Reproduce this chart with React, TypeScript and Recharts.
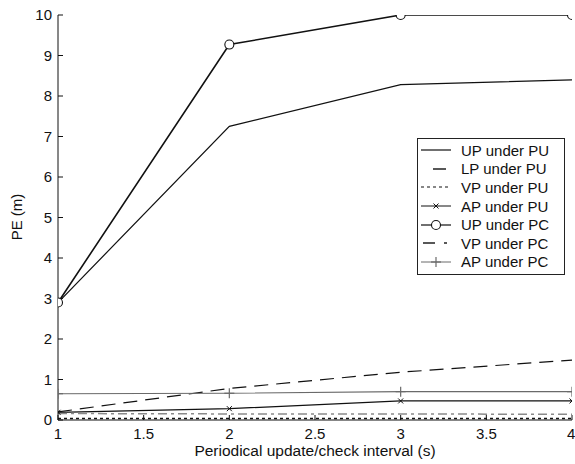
import { LineChart, Line, XAxis, YAxis, Legend } from 'recharts';

const intervals = [1, 2, 3, 4];
const upUnderPU = [2.9, 7.25, 8.28, 8.4];
const lpUnderPU = [0.2, 0.78, 1.18, 1.48];
const vpUnderPU = [0.04, 0.04, 0.04, 0.04];
const apUnderPU = [0.19, 0.28, 0.47, 0.47];
const upUnderPC = [2.9, 9.27, 10, 10];
const vpUnderPC = [0.16, 0.15, 0.15, 0.14];
const apUnderPC = [0.65, 0.66, 0.7, 0.7];

const xTicks = [1, 1.5, 2, 2.5, 3, 3.5, 4];
const yTicks = [0, 1, 2, 3, 4, 5, 6, 7, 8, 9, 10];

const data = intervals.map((x, i) => ({
  x,
  upPU: upUnderPU[i],
  lpPU: lpUnderPU[i],
  vpPU: vpUnderPU[i],
  apPU: apUnderPU[i],
  upPC: upUnderPC[i],
  vpPC: vpUnderPC[i],
  apPC: apUnderPC[i],
}));

const FONT = '"Liberation Sans", Arial, Helvetica, sans-serif';
const INK = '#111';
const GREY = '#6a6a6a';

const CircleDot = (props: any) => {
  const { cx, cy } = props;
  if (cx == null || cy == null) return <g />;
  return <circle cx={cx} cy={cy} r={4.5} fill="#fff" stroke={INK} strokeWidth={1.1} />;
};

const CrossDot = (props: any) => {
  const { cx, cy } = props;
  if (cx == null || cy == null) return <g />;
  const s = 2.5;
  return (
    <g stroke={INK} strokeWidth={1}>
      <line x1={cx - s} y1={cy - s} x2={cx + s} y2={cy + s} />
      <line x1={cx - s} y1={cy + s} x2={cx + s} y2={cy - s} />
    </g>
  );
};

const PlusDot = (props: any) => {
  const { cx, cy } = props;
  if (cx == null || cy == null) return <g />;
  const s = 5;
  return (
    <g stroke={GREY} strokeWidth={1.2}>
      <line x1={cx - s} y1={cy} x2={cx + s} y2={cy} />
      <line x1={cx} y1={cy - s} x2={cx} y2={cy + s} />
    </g>
  );
};

const legendRows = [
  { name: 'UP under PU', kind: 'solid' },
  { name: 'LP under PU', kind: 'short' },
  { name: 'VP under PU', kind: 'dotted' },
  { name: 'AP under PU', kind: 'cross' },
  { name: 'UP under PC', kind: 'circle' },
  { name: 'VP under PC', kind: 'dashdot' },
  { name: 'AP under PC', kind: 'plus' },
];

function Sample({ kind }: { kind: string }) {
  const y = 9;
  return (
    <svg width={40} height={18} style={{ display: 'block' }}>
      {kind === 'solid' && <line x1={3} x2={33} y1={y} y2={y} stroke={INK} strokeWidth={1.2} />}
      {kind === 'short' && <line x1={15} x2={28} y1={y} y2={y} stroke={INK} strokeWidth={1.4} />}
      {kind === 'dotted' && (
        <line x1={3} x2={33} y1={y} y2={y} stroke={INK} strokeWidth={1.2} strokeDasharray="3 3" />
      )}
      {kind === 'cross' && (
        <g>
          <line x1={3} x2={33} y1={y} y2={y} stroke={INK} strokeWidth={1} />
          <CrossDot cx={18} cy={y} />
        </g>
      )}
      {kind === 'circle' && (
        <g>
          <line x1={3} x2={33} y1={y} y2={y} stroke={INK} strokeWidth={1.2} />
          <CircleDot cx={18} cy={y} />
        </g>
      )}
      {kind === 'dashdot' && (
        <g stroke={INK} strokeWidth={1.4}>
          <line x1={5} x2={17} y1={y} y2={y} />
          <line x1={26} x2={29} y1={y} y2={y} />
        </g>
      )}
      {kind === 'plus' && (
        <g>
          <line x1={3} x2={33} y1={y} y2={y} stroke={GREY} strokeWidth={1} />
          <PlusDot cx={18} cy={y} />
        </g>
      )}
    </svg>
  );
}

function renderLegend() {
  return (
    <div
      style={{
        border: '1px solid #222',
        background: '#fff',
        padding: '2px 0 3px 0',
        fontFamily: FONT,
        fontSize: 15,
        color: INK,
      }}
    >
      {legendRows.map((r) => (
        <div key={r.name} style={{ display: 'flex', alignItems: 'center', height: 18.6 }}>
          <Sample kind={r.kind} />
          <span style={{ marginLeft: 3 }}>{r.name}</span>
        </div>
      ))}
    </div>
  );
}

const hideTick = () => <g />;

export default function App() {
  return (
    <div style={{ position: 'absolute', left: 0, top: 0, width: 575, height: 464, background: '#fff' }}>
      <LineChart width={575} height={464} data={data} margin={{ top: 15, right: 3, bottom: 0, left: 0 }}>
        <XAxis
          dataKey="x"
          type="number"
          domain={[1, 4]}
          ticks={xTicks}
          allowDataOverflow
          height={44}
          stroke={INK}
          tickSize={-5}
          tickMargin={13}
          tick={{ fill: INK, fontSize: 15, fontFamily: FONT }}
          label={{
            value: 'Periodical update/check interval (s)',
            position: 'insideBottom',
            offset: 8,
            fill: INK,
            fontSize: 15.5,
            fontFamily: FONT,
          }}
        />
        <XAxis
          xAxisId="top"
          orientation="top"
          type="number"
          domain={[1, 4]}
          ticks={xTicks}
          allowDataOverflow
          height={0}
          stroke={INK}
          tickSize={-5}
          tick={hideTick}
        />
        <YAxis
          type="number"
          domain={[0, 10]}
          ticks={yTicks}
          allowDataOverflow
          width={58}
          stroke={INK}
          tickSize={-5}
          tickMargin={11}
          tick={{ fill: INK, fontSize: 15, fontFamily: FONT }}
          label={{
            value: 'PE (m)',
            position: 'center',
            content: () => (
              <text
                x={16}
                y={217}
                transform="rotate(-90 16 217)"
                textAnchor="middle"
                dominantBaseline="central"
                fill={INK}
                fontSize={15}
                fontFamily={FONT}
              >
                PE (m)
              </text>
            ),
          }}
        />
        <YAxis
          yAxisId="right"
          orientation="right"
          type="number"
          domain={[0, 10]}
          ticks={yTicks}
          allowDataOverflow
          width={0}
          stroke={INK}
          tickSize={-5}
          tick={hideTick}
        />
        <Legend
          layout="horizontal"
          verticalAlign="middle"
          align="center"
          content={renderLegend}
          wrapperStyle={{ position: 'absolute', left: 417, top: 138, width: 148 }}
        />
        <Line dataKey="upPU" name="UP under PU" stroke={INK} strokeWidth={1.2} dot={false} activeDot={false} isAnimationActive={false} />
        <Line dataKey="lpPU" name="LP under PU" stroke={INK} strokeWidth={1.2} strokeDasharray="14 8" dot={false} activeDot={false} isAnimationActive={false} />
        <Line dataKey="vpPU" name="VP under PU" stroke={INK} strokeWidth={1.5} strokeDasharray="3 3" dot={false} activeDot={false} isAnimationActive={false} />
        <Line dataKey="apPU" name="AP under PU" stroke={INK} strokeWidth={1.2} dot={<CrossDot />} activeDot={false} isAnimationActive={false} />
        <Line dataKey="upPC" name="UP under PC" stroke={INK} strokeWidth={1.6} dot={<CircleDot />} activeDot={false} isAnimationActive={false} />
        <Line dataKey="vpPC" name="VP under PC" stroke="#8a8a8a" strokeWidth={1.5} strokeDasharray="9 4 3 4" dot={false} activeDot={false} isAnimationActive={false} />
        <Line dataKey="apPC" name="AP under PC" stroke={GREY} strokeWidth={1.1} dot={<PlusDot />} activeDot={false} isAnimationActive={false} />
      </LineChart>
    </div>
  );
}
